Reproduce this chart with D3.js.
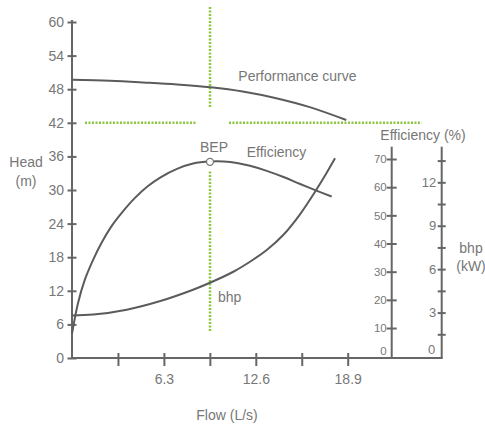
<!DOCTYPE html>
<html>
<head>
<meta charset="utf-8">
<script src="https://cdn.jsdelivr.net/npm/d3@7"></script>
<style>
  body { margin: 0; background: #fff; }
  svg { font-family: "Liberation Sans", Arial, sans-serif; }
  text { fill: #777; }
</style>
</head>
<body>
<div id="chart"></div>
<script>
// axis ticks
const flowTicks = [0, 3.15, 6.3, 9.45, 12.6, 15.75, 18.9]
const flowLabels = [6.3, 12.6, 18.9]
const headTicks = [0, 6, 12, 18, 24, 30, 36, 42, 48, 54, 60]
const effTicks = [10, 20, 30, 40, 50, 60, 70]
const bhpTicks = [1.5, 3, 4.5, 6, 7.5, 9, 10.5, 12, 13.5]
const bhpLabels = [3, 6, 9, 12]

// performance (head) curve
const perfFlow = [0, 2.6, 4.9, 7.2, 9.5, 11.7, 14.0, 16.3, 18.8]
const perfHead = [49.7, 49.5, 49.2, 48.85, 48.35, 47.6, 46.4, 44.8, 42.5]

// efficiency curve (%)
const effFlow = [0, 0.41, 0.87, 1.44, 2.01, 2.69, 3.38, 4.30, 5.21, 6.1, 7.2, 8.3, 9.5, 10.4, 11.3, 12.2, 13.35, 14.5, 15.6, 16.8, 17.8]
const effValue = [8, 18.8, 27.0, 34.1, 40.1, 46.0, 50.7, 56.1, 60.4, 63.6, 66.5, 68.4, 69.1, 69.1, 68.6, 67.6, 65.8, 63.6, 61.2, 58.7, 56.7]

// bhp curve (kW)
const bhpFlow = [0, 1.46, 3.75, 6.0, 8.3, 9.46, 11.06, 12.2, 13.35, 14.48, 15.63, 16.77, 17.46, 18.03]
const bhpValue = [2.8, 2.86, 3.2, 3.78, 4.58, 5.06, 5.82, 6.51, 7.32, 8.36, 9.79, 11.52, 12.66, 13.66]

// best efficiency point + guide lines
const bepFlow = 9.46
const bepEff = 69
const guideHead = 42
const vGuideSegments = [[62.7, 44.7], [33.3, 4.6]]   // head values
const hGuideSegments = [[0.89, 8.55], [10.76, 23.97]] // flow values

const W = 485, H = 426
const effAxisX = 391.7
const bhpAxisX = 441.7
const rightAxisTop = 146.7

const svg = d3.select("#chart").append("svg")
  .attr("width", W).attr("height", H)

const x = d3.scaleLinear().domain([0, 18.9]).range([72, 347.7])
const y = d3.scaleLinear().domain([0, 60]).range([358, 22])
const yEff = d3.scaleLinear().domain([0, 70]).range([356.2, 159])
const yBhp = d3.scaleLinear().domain([0, 12]).range([356, 182.3])

const axisColor = "#666"
const green = "#8cc63f"

// green dotted guides
svg.selectAll(".vguide")
  .data(vGuideSegments)
  .join("line")
  .attr("x1", x(bepFlow)).attr("x2", x(bepFlow))
  .attr("y1", d => y(d[0])).attr("y2", d => y(d[1]))
  .attr("stroke", green).attr("stroke-width", 2.5)
  .attr("stroke-dasharray", "2,1.5")

svg.selectAll(".hguide")
  .data(hGuideSegments)
  .join("line")
  .attr("x1", d => x(d[0])).attr("x2", d => x(d[1]))
  .attr("y1", y(guideHead)).attr("y2", y(guideHead))
  .attr("stroke", green).attr("stroke-width", 2.5)
  .attr("stroke-dasharray", "2,1.5")

// left (head) axis
const leftAxis = svg.append("g")
  .attr("transform", `translate(${x(0)},0)`)
  .call(d3.axisLeft(y).tickValues(headTicks).tickSizeOuter(0).tickPadding(8))
leftAxis.select(".domain").attr("stroke", axisColor).attr("stroke-width", 2)
  .attr("d", `M0,${y(0)}V${y(60) - 2}`)
leftAxis.selectAll(".tick line").attr("x1", -4.5).attr("x2", 4.5)
  .attr("stroke", axisColor).attr("stroke-width", 2)
leftAxis.selectAll(".tick text").attr("x", -8).attr("font-size", 14)
  .attr("font-family", "Liberation Sans").attr("fill", "#777")

// bottom (flow) axis
const bottomAxis = svg.append("g")
  .attr("transform", `translate(0,${y(0)})`)
  .call(d3.axisBottom(x).tickValues(flowTicks.slice(1))
    .tickFormat(d => flowLabels.includes(d) ? d : ""))
bottomAxis.select(".domain").remove()
bottomAxis.selectAll(".tick line").attr("y1", -5).attr("y2", 8)
  .attr("stroke", axisColor).attr("stroke-width", 2)
bottomAxis.selectAll(".tick text").attr("y", 22).attr("dy", 0)
  .attr("font-size", 14).attr("font-family", "Liberation Sans").attr("fill", "#777")
  .attr("transform", "translate(0,3.5)")
svg.append("line")
  .attr("x1", x(0) - 1).attr("x2", bhpAxisX + 1)
  .attr("y1", y(0)).attr("y2", y(0))
  .attr("stroke", axisColor).attr("stroke-width", 2)

// efficiency axis
const effAxis = svg.append("g")
  .attr("transform", `translate(${effAxisX},0)`)
  .call(d3.axisLeft(yEff).tickValues(effTicks).tickSizeOuter(0))
effAxis.select(".domain").attr("stroke", axisColor).attr("stroke-width", 2)
  .attr("d", `M0,${y(0)}V${rightAxisTop}`)
effAxis.selectAll(".tick line").attr("x1", -5).attr("x2", 5)
  .attr("stroke", axisColor).attr("stroke-width", 2)
effAxis.selectAll(".tick text").attr("x", -5).attr("font-size", 11.5)
  .attr("font-family", "Liberation Sans").attr("fill", "#777")
effAxis.append("text").attr("x", -5).attr("y", yEff(0) - 5).attr("dy", "0.32em")
  .attr("text-anchor", "end").attr("font-size", 11.5).attr("fill", "#777").text("0")

// bhp axis
const bhpAxis = svg.append("g")
  .attr("transform", `translate(${bhpAxisX},0)`)
  .call(d3.axisLeft(yBhp).tickValues(bhpTicks).tickSizeOuter(0)
    .tickFormat(d => bhpLabels.includes(d) ? d : ""))
bhpAxis.select(".domain").attr("stroke", axisColor).attr("stroke-width", 2)
  .attr("d", `M0,${y(0)}V${rightAxisTop}`)
bhpAxis.selectAll(".tick line").attr("x1", -4).attr("x2", 4)
  .attr("stroke", axisColor).attr("stroke-width", 2)
bhpAxis.selectAll(".tick text").attr("x", -5.5).attr("font-size", 13)
  .attr("font-family", "Liberation Sans").attr("fill", "#777")
bhpAxis.append("text").attr("x", -6.5).attr("y", yBhp(0) - 6).attr("dy", "0.32em")
  .attr("text-anchor", "end").attr("font-size", 13).attr("fill", "#777").text("0")

// curves
const curveColor = "#5b5b5b"
const smooth = d3.curveCatmullRom.alpha(0.5)
const perfLine = d3.line().x(d => x(d[0])).y(d => y(d[1])).curve(smooth)
const effLine = d3.line().x(d => x(d[0])).y(d => yEff(d[1])).curve(smooth)
const bhpLine = d3.line().x(d => x(d[0])).y(d => yBhp(d[1])).curve(smooth)

svg.append("path")
  .datum(d3.zip(perfFlow, perfHead))
  .attr("d", perfLine)
  .attr("fill", "none").attr("stroke", curveColor).attr("stroke-width", 2)

svg.append("path")
  .datum(d3.zip(effFlow, effValue))
  .attr("d", effLine)
  .attr("fill", "none").attr("stroke", curveColor).attr("stroke-width", 2)

svg.append("path")
  .datum(d3.zip(bhpFlow, bhpValue))
  .attr("d", bhpLine)
  .attr("fill", "none").attr("stroke", curveColor).attr("stroke-width", 2)

svg.append("circle")
  .attr("cx", x(bepFlow)).attr("cy", yEff(bepEff)).attr("r", 3.5)
  .attr("fill", "#fff").attr("stroke", "#777").attr("stroke-width", 1.3)

// labels
const label = (tx, ty, str, size, anchor) =>
  svg.append("text").attr("x", tx).attr("y", ty)
    .attr("font-size", size).attr("text-anchor", anchor || "start").text(str)

label(26, 166.5, "Head", 14, "middle")
label(26, 186, "(m)", 14, "middle")
label(227, 420, "Flow (L/s)", 14, "middle")
label(423, 140, "Efficiency (%)", 14, "middle")
label(471, 253, "bhp", 14, "middle")
label(471, 271, "(kW)", 14, "middle")
label(238.3, 80.5, "Performance curve", 14)
label(214, 151.5, "BEP", 14, "middle")
label(246.7, 157, "Efficiency", 14)
label(218, 302, "bhp", 14)
</script>
</body>
</html>
